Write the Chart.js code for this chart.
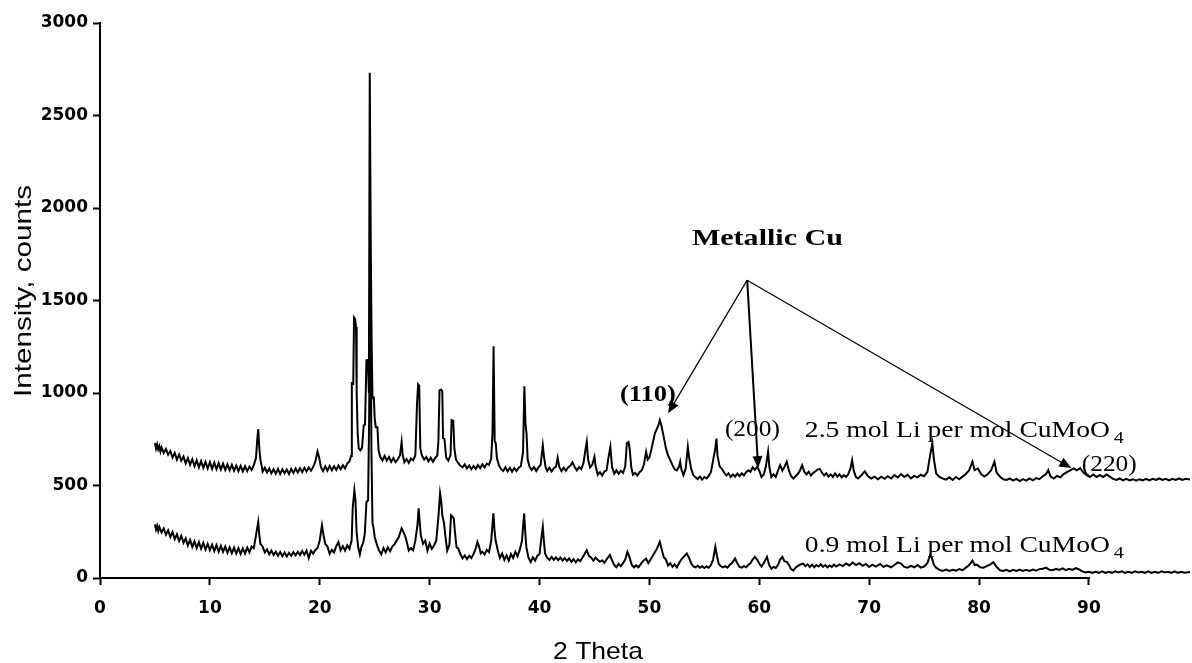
<!DOCTYPE html>
<html>
<head>
<meta charset="utf-8">
<script src="https://cdn.jsdelivr.net/npm/chart.js@4.4.1/dist/chart.umd.min.js"></script>
<style>
  html, body { margin: 0; padding: 0; background: #fff; }
  #xrd { display: block; }
</style>
</head>
<body>
<canvas id="xrd" width="1192" height="663"></canvas>
<script>
// 2 Theta / counts pairs, upper trace = 2.5 mol Li
var upperPattern = [
  [5.0,730],[5.1,700],[5.2,722],[5.3,695],[5.4,712],[5.5,684],[5.6,706],[5.8,676],[6.0,698],[6.2,666],[6.4,686],[6.6,652],[6.8,676],[7.0,640],[7.2,668],[7.4,634],[7.6,656],[7.8,620],[8.0,648],[8.2,612],[8.4,642],[8.6,604],[8.8,636],[9.0,598],[9.2,632],[9.4,596],[9.6,628],[9.8,592],[10.0,626],[10.2,590],[10.4,624],[10.6,588],[10.8,620],[11.0,586],[11.2,618],[11.4,584],[11.6,614],[11.8,582],[12.0,612],[12.2,580],[12.4,608],[12.6,578],[12.8,606],[13.0,576],[13.2,604],[13.4,578],[13.6,602],[13.8,584],[14.0,610],[14.2,650],[14.3,740],[14.4,805],[14.5,700],[14.6,640],[14.7,610],[14.8,575],
  [15.0,596],[15.2,570],[15.4,592],[15.6,566],[15.8,588],[16.0,564],[16.2,590],[16.4,562],[16.6,588],[16.8,566],[17.0,586],[17.2,562],[17.4,590],[17.6,568],[17.8,592],[18.0,570],[18.2,594],[18.4,572],[18.6,596],[18.8,576],[19.0,598],[19.2,580],[19.4,600],[19.6,630],[19.8,684],[19.95,650],[20.1,600],[20.3,578],[20.5,604],[20.7,580],[20.9,606],[21.1,582],[21.3,604],[21.5,584],[21.7,608],[21.9,588],[22.1,610],[22.3,592],[22.5,618],[22.7,630],[22.85,660],
  [22.92,1053],[23.05,1050],[23.12,1408],[23.22,1400],[23.3,1357],[23.36,1000],[23.45,783],[23.55,700],[23.7,690],[23.85,705],[24.0,825],[24.12,830],[24.25,1177],[24.38,1180],[24.47,1000],[24.55,2731],[24.65,1736],[24.72,1285],[24.8,972],[24.92,975],[25.0,863],[25.1,815],[25.25,815],[25.35,690],[25.5,655],[25.7,636],[25.9,660],[26.1,634],[26.3,654],[26.5,628],[26.7,648],[26.9,626],[27.1,642],[27.3,662],[27.45,736],[27.55,665],[27.7,626],[27.9,644],[28.1,622],[28.3,646],[28.5,636],[28.7,664],[28.85,940],[28.95,1047],[29.05,1040],[29.15,700],[29.3,662],[29.5,640],[29.7,654],[29.9,630],[30.1,650],[30.3,628],[30.5,648],[30.7,662],[30.8,745],[30.9,1015],[31.05,1018],[31.15,1010],[31.22,755],[31.35,752],[31.5,652],[31.7,634],[31.9,664],[32.0,853],[32.15,850],[32.25,700],[32.4,640],[32.6,622],[32.8,606],
  [33.0,598],[33.2,614],[33.4,592],[33.6,608],[33.8,588],[34.0,606],[34.2,590],[34.4,610],[34.6,594],[34.8,614],[35.0,598],[35.2,618],[35.4,612],[35.6,645],[35.72,780],[35.82,1253],[35.92,740],[36.02,728],[36.12,650],[36.3,610],[36.5,588],[36.7,578],[36.9,598],[37.1,576],[37.3,596],[37.5,574],[37.7,594],[37.9,578],[38.1,596],[38.3,604],[38.5,680],[38.62,1037],[38.72,835],[38.82,780],[38.92,640],[39.1,600],[39.3,584],[39.5,600],[39.7,578],[39.9,598],[40.1,612],[40.3,717],[40.42,650],[40.55,600],[40.7,578],[40.9,596],[41.1,576],[41.3,594],[41.5,602],[41.65,650],[41.8,600],[42.0,578],[42.2,596],[42.4,580],[42.6,598],[42.8,606],[43.0,625],[43.2,600],[43.4,582],[43.6,600],[43.8,588],[44.0,622],[44.2,700],[44.3,736],[44.42,640],[44.6,598],[44.8,612],
  [45.0,655],[45.12,600],[45.3,558],[45.5,572],[45.7,554],[45.9,576],[46.1,582],[46.3,660],[46.45,709],[46.6,600],[46.8,564],[47.0,582],[47.2,564],[47.4,580],[47.6,568],[47.8,602],[47.95,730],[48.1,736],[48.2,700],[48.35,600],[48.5,558],[48.7,568],[48.9,554],[49.1,572],[49.3,582],[49.5,612],[49.7,682],[49.85,640],[50.0,652],[50.2,700],[50.5,782],[50.8,822],[50.95,853],[51.1,822],[51.3,764],[51.5,702],[51.7,662],[51.9,637],[52.1,610],[52.3,588],[52.5,582],[52.7,602],[52.8,628],[52.9,590],[53.1,556],[53.3,592],[53.5,709],[53.62,650],[53.8,590],[54.0,556],[54.2,544],[54.4,534],[54.6,548],[54.8,532],[55.0,546],[55.2,538],[55.4,552],[55.6,572],[55.8,637],[56.0,700],[56.1,754],[56.2,660],[56.4,602],[56.6,590],[56.8,570],
  [57.0,554],[57.2,566],[57.4,546],[57.6,560],[57.8,548],[58.0,564],[58.2,550],[58.4,566],[58.6,554],[58.8,572],[59.0,582],[59.2,574],[59.4,598],[59.6,584],[59.8,602],[60.0,580],[60.2,546],[60.4,560],[60.6,602],[60.8,682],[60.92,600],[61.1,546],[61.3,560],[61.5,546],[61.7,580],[61.9,610],[62.1,580],[62.3,602],[62.5,628],[62.7,580],[62.9,550],[63.1,538],[63.3,550],[63.5,562],[63.7,580],[63.9,610],[64.1,574],[64.3,560],[64.5,574],[64.7,554],[64.9,568],[65.1,576],[65.3,586],[65.5,590],[65.7,570],[65.9,554],[66.1,566],[66.3,548],[66.5,560],[66.7,546],[66.9,566],[67.1,548],[67.3,560],[67.5,544],[67.7,556],[67.9,546],[68.1,562],[68.3,592],[68.45,637],[68.6,580],[68.8,546],
  [69.0,538],[69.3,556],[69.6,576],[69.9,550],[70.2,538],[70.5,548],[70.8,534],[71.1,548],[71.4,536],[71.7,550],[72.0,538],[72.3,556],[72.6,544],[72.9,562],[73.2,546],[73.5,558],[73.8,538],[74.1,552],[74.4,544],[74.7,558],[75.0,550],[75.3,572],[75.55,664],[75.75,727],[75.9,640],[76.1,565],[76.4,546],[76.7,538],[77.0,532],[77.3,544],[77.6,530],[77.9,546],[78.2,534],[78.5,548],[78.8,562],[79.1,582],[79.4,628],[79.6,583],[79.9,592],[80.2,560],[80.5,548],[80.8,562],[81.1,582],[81.4,628],[81.6,570],[81.9,548],[82.2,534],[82.5,530],[82.8,538],[83.1,526],[83.4,536],[83.7,524],[84.0,534],[84.3,526],[84.6,538],[84.9,528],[85.2,540],[85.5,534],[85.8,550],[86.1,562],[86.3,583],[86.5,550],[86.8,538],[87.1,552],[87.4,544],[87.7,562],[88.0,572],[88.3,582],[88.6,592],[88.9,582],[89.2,594],[89.5,570],[89.8,556],
  [90.1,546],[90.4,560],[90.7,546],[91.0,556],[91.3,546],[91.6,560],[91.9,548],[92.2,536],[92.5,530],[92.8,538],[93.1,528],[93.4,536],[93.7,528],[94.0,534],[94.3,526],[94.6,534],[94.9,528],[95.2,536],[95.5,528],[95.8,536],[96.1,530],[96.4,538],[96.7,530],[97.0,536],[97.3,528],[97.6,536],[97.9,530],[98.2,538],[98.5,530],[98.8,536],[99.2,532]
];

// lower trace = 0.9 mol Li
var lowerPattern = [
  [5.0,290],[5.1,262],[5.2,282],[5.3,254],[5.4,276],[5.6,246],[5.8,268],[6.0,234],[6.2,258],[6.4,222],[6.6,248],[6.8,210],[7.0,236],[7.2,200],[7.4,228],[7.6,190],[7.8,214],[8.0,176],[8.2,206],[8.4,168],[8.6,198],[8.8,162],[9.0,194],[9.2,158],[9.4,190],[9.6,154],[9.8,184],[10.0,150],[10.2,180],[10.4,146],[10.6,178],[10.8,142],[11.0,174],[11.2,142],[11.4,170],[11.6,136],[11.8,166],[12.0,134],[12.2,164],[12.4,132],[12.6,162],[12.8,130],[13.0,160],[13.2,132],[13.4,164],[13.6,138],[13.8,170],[14.0,162],[14.2,232],[14.4,303],[14.5,232],[14.6,185],[14.8,170],
  [15.0,138],[15.2,154],[15.4,128],[15.6,148],[15.8,124],[16.0,142],[16.2,120],[16.4,140],[16.6,118],[16.8,138],[17.0,116],[17.2,136],[17.4,120],[17.6,140],[17.8,122],[18.0,142],[18.2,124],[18.4,146],[18.6,126],[18.8,148],[19.0,108],[19.2,148],[19.4,132],[19.6,152],[19.8,162],[20.0,204],[20.2,285],[20.35,230],[20.5,185],[20.7,170],[20.9,130],[21.1,152],[21.3,138],[21.5,172],[21.7,195],[21.9,150],[22.1,172],[22.3,148],[22.5,176],[22.7,158],[22.9,202],
  [23.0,380],[23.15,474],[23.25,420],[23.35,250],[23.5,166],[23.65,128],[23.8,170],[23.95,190],[24.1,240],[24.25,411],[24.4,420],[24.5,900],[24.6,1740],[24.7,700],[24.8,296],[24.9,270],[25.0,222],[25.2,180],[25.4,148],[25.6,128],[25.8,162],[26.0,138],[26.2,166],[26.4,144],[26.6,170],[26.8,182],[27.0,202],[27.2,222],[27.45,268],[27.6,250],[27.75,231],[27.9,200],[28.1,148],[28.3,162],[28.5,150],[28.7,202],[28.9,290],[29.0,377],[29.1,300],[29.2,230],[29.4,185],[29.6,202],[29.8,148],[30.0,186],[30.2,158],[30.4,176],[30.6,202],[30.8,330],[30.95,458],[31.05,420],[31.15,340],[31.3,300],[31.45,220],[31.6,148],[31.8,180],[31.95,339],[32.1,330],[32.2,321],[32.3,250],[32.45,166],[32.6,160],[32.8,128],
  [33.0,106],[33.2,122],[33.4,102],[33.6,120],[33.8,108],[34.0,130],[34.2,160],[34.35,195],[34.5,170],[34.65,133],[34.8,142],[35.0,128],[35.2,152],[35.4,140],[35.6,200],[35.8,349],[35.9,260],[36.0,205],[36.2,150],[36.4,108],[36.6,132],[36.8,98],[37.0,122],[37.2,94],[37.4,130],[37.6,108],[37.8,142],[38.0,118],[38.2,152],[38.4,200],[38.6,349],[38.7,250],[38.8,168],[39.0,108],[39.2,86],[39.4,112],[39.6,94],[39.8,120],[40.0,130],[40.2,230],[40.3,276],[40.4,200],[40.5,133],[40.7,110],[40.9,98],[41.1,114],[41.3,98],[41.5,112],[41.7,96],[41.9,110],[42.1,94],[42.3,108],[42.5,92],[42.7,106],[42.9,88],[43.1,102],[43.3,84],[43.5,100],[43.7,90],[43.9,110],[44.1,130],[44.3,150],[44.5,120],[44.7,110],[44.9,94],
  [45.1,110],[45.3,98],[45.5,88],[45.7,96],[45.9,82],[46.1,100],[46.4,124],[46.6,96],[46.8,70],[47.0,58],[47.2,76],[47.4,64],[47.6,80],[47.8,100],[48.0,141],[48.2,110],[48.4,70],[48.6,58],[48.8,68],[49.0,58],[49.2,74],[49.4,90],[49.7,105],[49.9,80],[50.1,100],[50.4,130],[50.7,160],[50.95,195],[51.1,160],[51.3,114],[51.5,100],[51.7,68],[51.9,80],[52.1,60],[52.3,74],[52.5,58],[52.7,80],[52.9,100],[53.2,120],[53.4,133],[53.6,110],[53.8,80],[54.0,62],[54.2,58],[54.4,66],[54.6,56],[54.8,64],[55.0,54],[55.2,62],[55.4,56],[55.6,70],[55.8,100],[56.0,168],[56.15,120],[56.3,78],[56.5,64],[56.7,58],[56.9,64],
  [57.1,56],[57.3,70],[57.5,80],[57.8,105],[58.0,80],[58.2,60],[58.4,56],[58.6,64],[58.8,58],[59.0,70],[59.2,80],[59.4,100],[59.6,114],[59.8,100],[60.0,78],[60.2,62],[60.4,80],[60.7,114],[60.9,70],[61.1,50],[61.3,60],[61.5,54],[61.7,70],[61.9,100],[62.1,114],[62.3,90],[62.5,87],[62.7,70],[62.9,48],[63.1,40],[63.3,56],[63.5,64],[63.7,72],[64.0,78],[64.2,64],[64.4,74],[64.6,60],[64.8,72],[65.0,58],[65.2,70],[65.4,62],[65.6,74],[65.8,60],[66.0,70],[66.2,58],[66.4,68],[66.6,60],[66.8,72],[67.0,62],[67.3,74],[67.6,64],[67.9,78],[68.2,68],[68.5,84],[68.8,70],
  [69.1,80],[69.4,66],[69.7,76],[70.0,60],[70.3,72],[70.6,62],[71.0,76],[71.3,60],[71.6,68],[72.0,58],[72.3,70],[72.6,84],[72.9,78],[73.2,60],[73.5,56],[73.8,66],[74.1,58],[74.4,70],[74.7,56],[75.0,62],[75.3,80],[75.55,123],[75.7,110],[75.9,70],[76.1,56],[76.4,44],[76.7,38],[77.0,46],[77.3,38],[77.6,44],[77.9,40],[78.2,48],[78.5,42],[78.8,56],[79.1,70],[79.4,94],[79.6,70],[79.8,72],[80.1,58],[80.4,56],[80.7,64],[81.0,72],[81.3,85],[81.6,60],[81.9,42],[82.2,38],[82.5,44],[82.8,36],[83.1,44],[83.4,38],[83.7,46],[84.0,38],[84.3,44],[84.6,38],[84.9,46],[85.2,40],[85.5,48],[85.8,50],[86.1,56],[86.4,44],[86.7,42],[87.0,50],[87.3,44],[87.6,52],[87.9,42],[88.2,50],[88.5,44],[88.8,54],[89.1,46],[89.4,36],[89.7,30],
  [90.0,34],[90.3,28],[90.6,34],[90.9,28],[91.2,36],[91.5,28],[91.8,34],[92.1,28],[92.4,36],[92.7,30],[93.0,36],[93.3,28],[93.6,34],[93.9,28],[94.2,36],[94.5,30],[94.8,34],[95.1,28],[95.4,36],[95.7,28],[96.0,34],[96.3,28],[96.6,36],[96.9,30],[97.2,34],[97.5,28],[97.8,36],[98.1,28],[98.4,34],[98.7,28],[99.2,32]
];

var thetaTicks = [0, 10, 20, 30, 40, 50, 60, 70, 80, 90];
var countTicks = [0, 500, 1000, 1500, 2000, 2500, 3000];
var seriesLabels = ['2.5 mol Li per mol CuMoO', '0.9 mol Li per mol CuMoO'];
var peakLabels = ['(110)', '(200)', '(220)'];

function toPoints(pairs) {
  return pairs.map(function (p) { return { x: p[0], y: p[1] }; });
}

// the scanned figure has wide lettering, so stretch each text to its width
function wideText(ctx, text, x, y, width) {
  var w = ctx.measureText(text).width;
  ctx.save();
  ctx.translate(x, y);
  ctx.scale(width / w, 1);
  ctx.fillText(text, 0, 0);
  ctx.restore();
}

function arrowTo(ctx, x0, y0, x1, y1) {
  var ang = Math.atan2(y1 - y0, x1 - x0);
  var len = 12, half = 5;
  ctx.beginPath();
  ctx.moveTo(x0, y0);
  ctx.lineTo(x1 - Math.cos(ang) * len * 0.6, y1 - Math.sin(ang) * len * 0.6);
  ctx.stroke();
  ctx.beginPath();
  ctx.moveTo(x1, y1);
  ctx.lineTo(x1 - Math.cos(ang) * len - Math.sin(ang) * half, y1 - Math.sin(ang) * len + Math.cos(ang) * half);
  ctx.lineTo(x1 - Math.cos(ang) * len + Math.sin(ang) * half, y1 - Math.sin(ang) * len - Math.cos(ang) * half);
  ctx.closePath();
  ctx.fill();
}

var decorations = {
  id: 'decorations',
  afterDraw: function (chart) {
    var ctx = chart.ctx, xs = chart.scales.x, ys = chart.scales.y, area = chart.chartArea;
    var px = function (v) { return xs.getPixelForValue(v); };
    var py = function (v) { return ys.getPixelForValue(v); };
    ctx.save();
    ctx.fillStyle = '#000';
    ctx.strokeStyle = '#000';

    // x axis line stops at 90
    ctx.lineWidth = 2;
    ctx.beginPath();
    ctx.moveTo(px(0) - 1, area.bottom);
    ctx.lineTo(px(90) + 1, area.bottom);
    ctx.stroke();

    // axis titles
    ctx.font = '24px "Liberation Sans", Arial, sans-serif';
    ctx.textBaseline = 'middle';
    ctx.textAlign = 'left';
    wideText(ctx, '2 Theta', 553, 652, 90);
    ctx.save();
    ctx.translate(24, 291);
    ctx.rotate(-Math.PI / 2);
    wideText(ctx, 'Intensity, counts', -106, 0, 212);
    ctx.restore();

    // Metallic Cu callout
    var apex = [58.9, 1610];
    var tips = [[51.7, 890], [59.9, 594], [88.4, 594]];
    tips.forEach(function (t, i) {
      ctx.lineWidth = i === 1 ? 2 : 1.2;
      arrowTo(ctx, px(apex[0]), py(apex[1]), px(t[0]), py(t[1]));
    });

    ctx.textBaseline = 'alphabetic';
    ctx.font = 'bold 24px "Liberation Serif", "Times New Roman", serif';
    wideText(ctx, 'Metallic Cu', px(53.87), py(1799), 151);
    ctx.font = 'bold 23px "Liberation Serif", "Times New Roman", serif';
    wideText(ctx, peakLabels[0], px(47.32), py(956), 56);
    ctx.font = '24px "Liberation Serif", "Times New Roman", serif';
    wideText(ctx, peakLabels[1], px(56.87), py(766), 55);
    wideText(ctx, peakLabels[2], px(89.35), py(579), 55);

    [[64.15, 761], [64.15, 139]].forEach(function (pos, i) {
      ctx.font = '24px "Liberation Serif", "Times New Roman", serif';
      var x0 = px(pos[0]), y0 = py(pos[1]);
      wideText(ctx, seriesLabels[i], x0, y0, 305);
      ctx.font = '16px "Liberation Serif", "Times New Roman", serif';
      wideText(ctx, '4', x0 + 309, y0 + 6, 10);
    });
    ctx.restore();
  }
};

var tickFont = { family: '"DejaVu Sans", sans-serif', weight: 'bold', size: 17 };
var plainNumber = function (v) { return String(v); };

new Chart(document.getElementById('xrd'), {
  type: 'line',
  data: {
    datasets: [
      { label: seriesLabels[0] + '4', data: toPoints(upperPattern), borderColor: '#000', borderWidth: 2, pointRadius: 0, tension: 0, fill: false },
      { label: seriesLabels[1] + '4', data: toPoints(lowerPattern), borderColor: '#000', borderWidth: 2, pointRadius: 0, tension: 0, fill: false }
    ]
  },
  options: {
    responsive: false,
    animation: false,
    devicePixelRatio: 1,
    layout: { padding: { top: 23, right: 2, left: 0, bottom: 0 } },
    plugins: { legend: { display: false }, tooltip: { enabled: false } },
    scales: {
      x: {
        type: 'linear',
        min: 0,
        max: 99.2,
        afterBuildTicks: function (s) { s.ticks = thetaTicks.map(function (v) { return { value: v }; }); },
        afterFit: function (s) { s.height = 85; },
        grid: { drawOnChartArea: false, drawTicks: true, tickLength: 7, tickWidth: 2, tickColor: '#000', color: '#000' },
        border: { display: false },
        ticks: { font: tickFont, color: '#000', padding: 13, maxRotation: 0, autoSkip: false, callback: plainNumber }
      },
      y: {
        min: 0,
        max: 3000,
        afterBuildTicks: function (s) { s.ticks = countTicks.map(function (v) { return { value: v }; }); },
        afterFit: function (s) { s.width = 100; },
        grid: { drawOnChartArea: false, drawTicks: true, tickLength: 7, tickWidth: 2, tickColor: '#000', color: '#000' },
        border: { display: true, color: '#000', width: 2 },
        ticks: { font: tickFont, color: '#000', padding: 5, autoSkip: false, callback: plainNumber }
      }
    }
  },
  plugins: [decorations]
});
</script>
</body>
</html>
